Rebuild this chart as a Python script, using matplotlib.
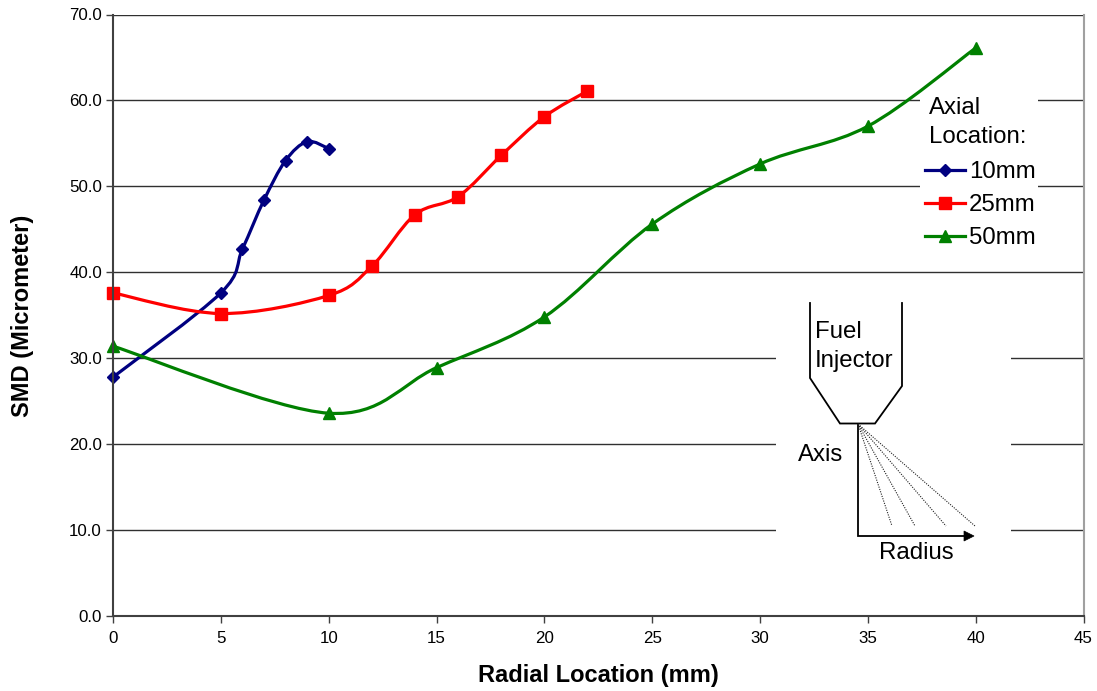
import numpy as np
import matplotlib
matplotlib.use('Agg')
import matplotlib.pyplot as plt
from matplotlib.path import Path
from matplotlib.patches import PathPatch, Rectangle, Polygon
from matplotlib.transforms import Affine2D

plt.rcParams['font.family'] = ['Liberation Sans', 'DejaVu Sans']

x_10mm = [0, 5, 6, 7, 8, 9, 10]
y_10mm = [27.8, 37.6, 42.7, 48.4, 53.0, 55.2, 54.4]
x_25mm = [0, 5, 10, 12, 14, 16, 18, 20, 22]
y_25mm = [37.6, 35.2, 37.3, 40.7, 46.7, 48.8, 53.6, 58.1, 61.1]
x_50mm = [0, 10, 15, 20, 25, 30, 35, 40]
y_50mm = [31.4, 23.6, 28.9, 34.8, 45.6, 52.6, 57.0, 66.1]

x_ticks = [0, 5, 10, 15, 20, 25, 30, 35, 40, 45]
y_ticks = [0, 10, 20, 30, 40, 50, 60, 70]

W, H = 1097, 691
fig = plt.figure(figsize=(W / 100, H / 100), dpi=100)
ax = fig.add_axes([113 / W, 1 - 616 / H, (1083.5 - 113) / W, (616 - 14.5) / H])
# reference pixels, for the sketch and the legend
px = Affine2D().scale(1 / W, -1 / H).translate(0, 1) + fig.transFigure


def smooth_patch(xs, ys, color):
    # excel style smoothed line, bezier through the points
    p = np.column_stack((xs, ys))
    verts = [p[0]]
    for i in range(len(p) - 1):
        before = p[max(i - 1, 0)]
        after = p[min(i + 2, len(p) - 1)]
        verts.append(p[i] + (p[i + 1] - before) / 6)
        verts.append(p[i + 1] - (after - p[i]) / 6)
        verts.append(p[i + 1])
    codes = [Path.MOVETO] + [Path.CURVE4] * (len(verts) - 1)
    ax.add_patch(PathPatch(Path(verts, codes), fc='none', ec=color, lw=2.3, zorder=3, clip_on=False))


ax.set_xlim(0, 45)
ax.set_ylim(0, 70)
ax.set_xticks(x_ticks)
ax.set_yticks(y_ticks)
ax.set_yticklabels(['%.1f' % v for v in y_ticks])
ax.tick_params(axis='x', labelsize=12.2, length=5, width=1, color='#404040', pad=6)
ax.tick_params(axis='y', labelsize=12.2, length=5, width=1, color='#404040', pad=3)
ax.grid(axis='y', color='#303030', lw=1)
ax.set_axisbelow(True)
for s in ['top', 'right']:
    ax.spines[s].set_visible(False)
ax.plot([1, 1], [0, 1], transform=ax.transAxes, color='#a0a0a0', lw=1.5, clip_on=False)
for s in ['left', 'bottom']:
    ax.spines[s].set_color('#404040')
    ax.spines[s].set_linewidth(1.5)
    ax.spines[s].set_zorder(6)

# white boxes that break the gridlines
fig_boxes = [(920, 88, 118, 162), (776, 295, 235, 275)]
for bx, by, bw, bh in fig_boxes:
    ax.add_patch(Rectangle((bx, by), bw, bh, transform=px, fc='white', ec='none', zorder=2))

series = [
    (x_10mm, y_10mm, '#000080', 'D', 6.5),
    (x_25mm, y_25mm, '#ff0000', 's', 9),
    (x_50mm, y_50mm, '#008000', '^', 9),
]
for xs, ys, color, marker, size in series:
    smooth_patch(xs, ys, color)
    ax.plot(xs, ys, ls='none', marker=marker, ms=size, color=color, mec=color, zorder=4, clip_on=False)

fig.text(598, 676, 'Radial Location (mm)', transform=px, fontsize=17, fontweight='bold', ha='center', va='center')
fig.text(23, 316, 'SMD (Micrometer)', transform=px, fontsize=17, fontweight='bold', rotation=90, ha='center', va='center')

# legend
fig.text(929, 108, 'Axial', transform=px, fontsize=17.3, va='center')
fig.text(929, 137, 'Location:', transform=px, fontsize=17.3, va='center')
legend_rows = [(170, '10mm'), (203, '25mm'), (236, '50mm')]
for (ly, label), (xs, ys, color, marker, size) in zip(legend_rows, series):
    ax.plot([925, 965], [ly, ly], transform=px, color=color, lw=2.3, marker=None, zorder=5, clip_on=False)
    ax.plot([945], [ly], transform=px, ls='none', marker=marker, ms=size, color=color, zorder=5, clip_on=False)
    fig.text(969, ly + 2, label, transform=px, fontsize=17.3, va='center')

# injector sketch
sketch_lines = [
    ([810, 810, 840, 875, 902, 902], [303, 378, 423.5, 423.5, 386, 303]),
    ([858, 858, 965], [424, 536, 536]),
]
for sx, sy in sketch_lines:
    ax.plot(sx, sy, transform=px, color='black', lw=1.3, zorder=5, clip_on=False, solid_joinstyle='miter')
ax.add_patch(Polygon([[964, 531], [974, 536], [964, 541]], transform=px, fc='black', ec='black', lw=0.5, zorder=5, clip_on=False))
for ex, ey in [(892, 526), (915, 526), (946, 526), (975, 526)]:
    ax.plot([858, ex], [424, ey], transform=px, color='#202020', lw=0.8, ls=(0, (1, 1.2)), zorder=5, clip_on=False)

fig.text(815, 332, 'Fuel', transform=px, fontsize=17.3, va='center')
fig.text(815, 361, 'Injector', transform=px, fontsize=17.3, va='center')
fig.text(798, 455, 'Axis', transform=px, fontsize=17.3, va='center')
fig.text(879, 553, 'Radius', transform=px, fontsize=17.3, va='center')

fig.savefig('out.png', dpi=100, facecolor='white')
